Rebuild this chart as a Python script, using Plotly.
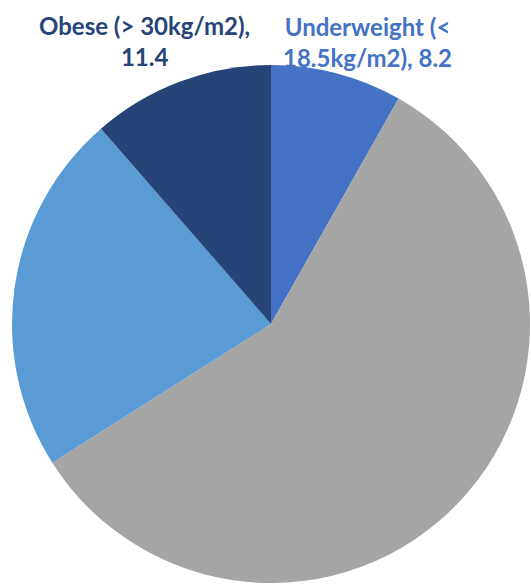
import plotly.graph_objects as go

labels = ["Underweight (< 18.5kg/m2)", "Normal", "Overweight", "Obese (> 30kg/m2)"]
values = [8.2, 57.8, 22.6, 11.4]
colors = ["#4472C4", "#A5A5A5", "#5B9BD5", "#264478"]

W, H = 531, 587
cx, cy, r = 271, 324, 259

fig = go.Figure(go.Pie(
    labels=labels, values=values, sort=False, direction="clockwise", rotation=0,
    marker=dict(colors=colors, line=dict(width=0)),
    textinfo="none", hoverinfo="label+value", showlegend=False,
    domain=dict(x=[(cx - r) / W, (cx + r) / W], y=[1 - (cy + r) / H, 1 - (cy - r) / H]),
))

font_family = "Lato"
fig.add_annotation(
    x=144 / W, y=1 - 41 / H, xref="paper", yref="paper", xanchor="center", yanchor="middle",
    text=f"<b>Obese (> 30kg/m2),<br>{values[3]}</b>", showarrow=False, align="center",
    font=dict(family=font_family, size=24, color=colors[3]),
)
fig.add_annotation(
    x=367 / W, y=1 - 42 / H, xref="paper", yref="paper", xanchor="center", yanchor="middle",
    text=f"<b>Underweight (<<br>18.5kg/m2), {values[0]}</b>", showarrow=False, align="center",
    font=dict(family=font_family, size=24, color=colors[0]),
)

fig.update_layout(width=W, height=H, margin=dict(l=0, r=0, t=0, b=0),
                  paper_bgcolor="white", plot_bgcolor="white")
fig.write_html("out.html")
